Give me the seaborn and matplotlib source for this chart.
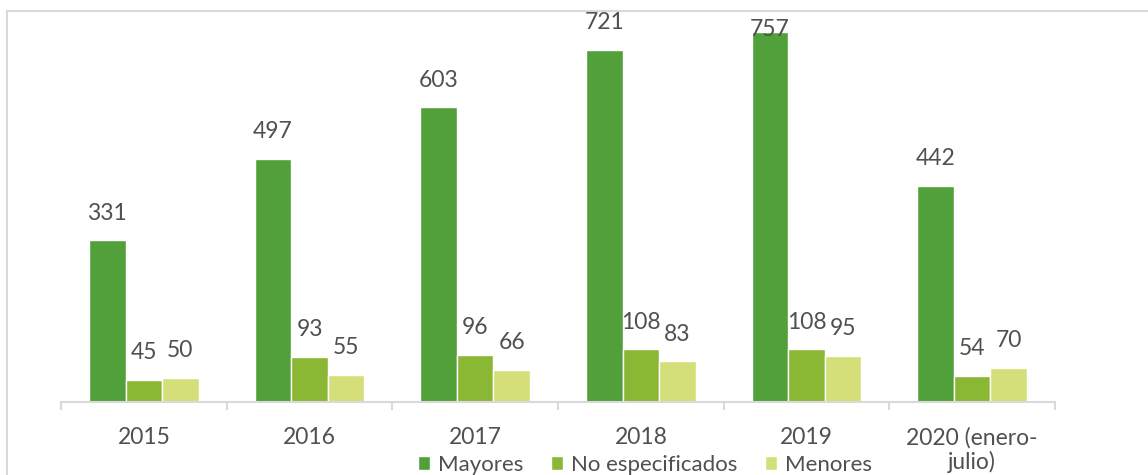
import matplotlib
matplotlib.use("Agg")
import matplotlib.pyplot as plt
import seaborn as sns
import pandas as pd
from matplotlib.patches import Rectangle

categories = ["2015", "2016", "2017", "2018", "2019", "2020 (enero-\njulio)"]
series = ["Mayores", "No especificados", "Menores"]
mayores = [331, 497, 603, 721, 757, 442]
no_especificados = [45, 93, 96, 108, 108, 54]
menores = [50, 55, 66, 83, 95, 70]
colors = ["#52A03A", "#8BB834", "#D4DF7A"]

rows = []
for s, vals in zip(series, [mayores, no_especificados, menores]):
    for c, v in zip(categories, vals):
        rows.append({"cat": c, "serie": s, "valor": v})
df = pd.DataFrame(rows)

sns.set_theme(style="white")
plt.rcParams["font.family"] = ["Lato", "DejaVu Sans"]
text_color = "#505050"
fs = 16.5

W, H = 1148, 475
fig = plt.figure(figsize=(W / 100, H / 100), dpi=100)
ax = fig.add_axes([61 / W, (H - 402) / H, 994 / W, 391 / H])

sns.barplot(data=df, x="cat", y="valor", hue="serie", order=categories,
            hue_order=series, palette=colors, width=0.663, gap=0,
            saturation=1, ax=ax, legend=True)

ymax = 800
for cont in ax.containers:
    texts = ax.bar_label(cont, padding=12, fontsize=fs, color=text_color)
    for t, v in zip(texts, cont.datavalues):
        if v > 740:
            t.xyann = (0, -5.8)
            t.set_zorder(5)

ax.set_ylim(0, ymax)
ax.set_xlim(-0.5, len(categories) - 0.5)
ax.set_xlabel("")
ax.set_ylabel("")
ax.set_yticks([])
for s in ["left", "top", "right"]:
    ax.spines[s].set_visible(False)
ax.spines["bottom"].set_color("#D9D9D9")
ax.spines["bottom"].set_linewidth(1.5)

ax.set_xticks([i - 0.5 for i in range(len(categories) + 1)])
ax.set_xticklabels([])
ax.tick_params(axis="x", which="major", length=6, width=1.5, color="#D9D9D9", bottom=True)
ax.set_xticks(range(len(categories)), minor=True)
ax.set_xticklabels(categories, minor=True, fontsize=fs, color=text_color, linespacing=1.12)
ax.tick_params(axis="x", which="minor", length=0, pad=18)

handles, labels = ax.get_legend_handles_labels()
ax.get_legend().remove()
fig.legend(handles, labels, loc="center", bbox_to_anchor=(645 / W, (H - 465) / H),
           ncol=3, frameon=False, fontsize=16, labelcolor=text_color,
           handlelength=0.55, handleheight=0.55, handletextpad=0.35, columnspacing=1.25,
           borderpad=0, borderaxespad=0)

fig.patches.append(Rectangle((7 / W, -0.1), 1.2, (H - 11) / H + 0.1,
                             transform=fig.transFigure, fill=False,
                             edgecolor="#D9D9D9", linewidth=1.5, zorder=0))

fig.savefig("out.png", dpi=100)
